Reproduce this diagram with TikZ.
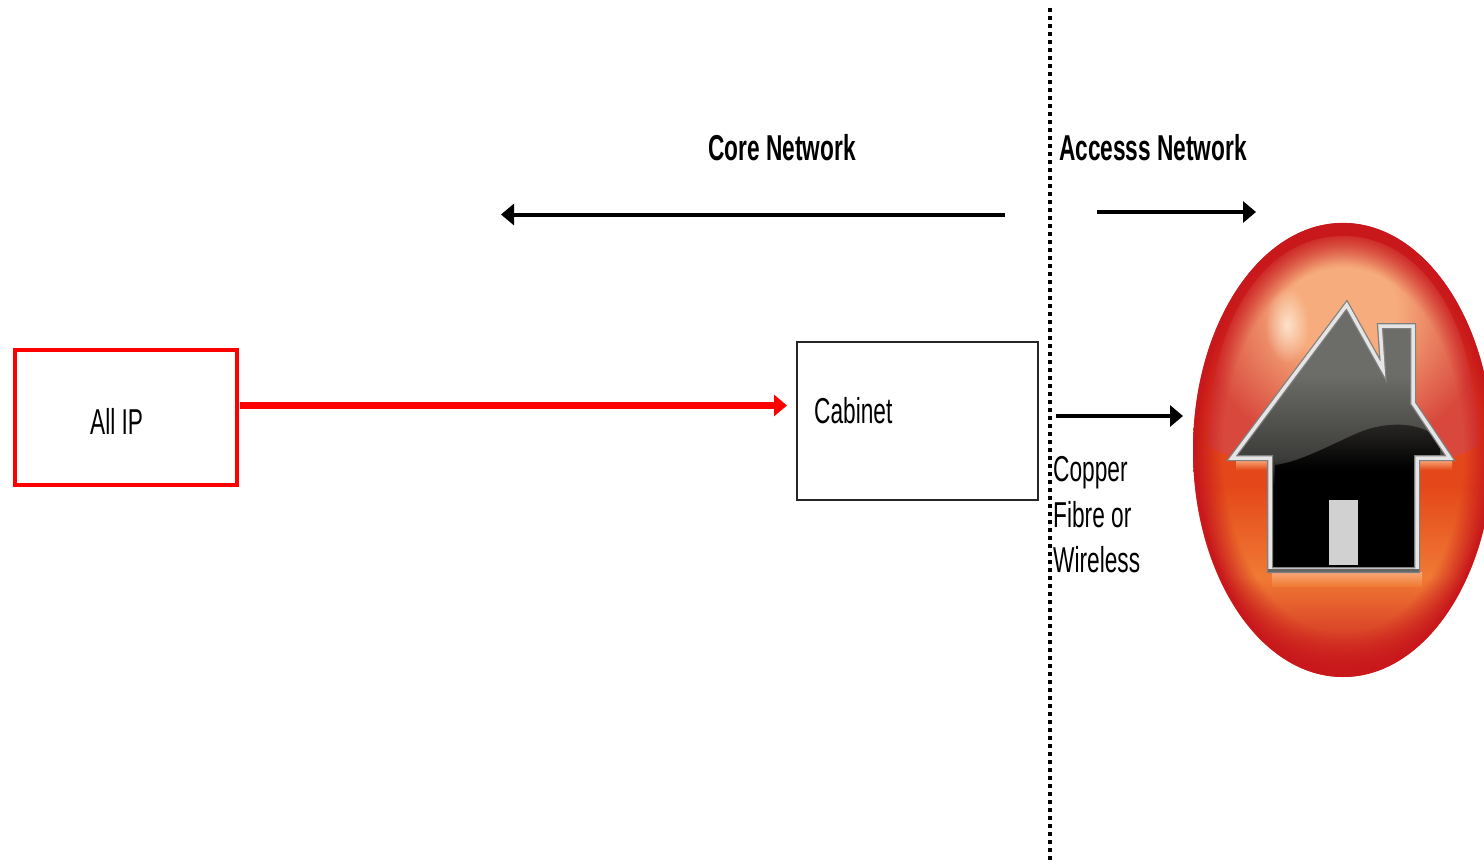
\documentclass[tikz,border=0pt]{standalone}
\usepackage{fontspec}
\setmainfont[FakeStretch=0.63]{Liberation Sans}
\usetikzlibrary{arrows.meta,fadings}
\definecolor{eggrim}{HTML}{C8181C}
\definecolor{eggorange}{HTML}{F07A34}
\definecolor{eggorangeb}{HTML}{E4481A}
\definecolor{eggpeach}{HTML}{F8A878}
\definecolor{glassin}{HTML}{F6AC7C}
\definecolor{glassout}{HTML}{D8483C}
\definecolor{housea}{HTML}{6C6C68}
\definecolor{houseb}{HTML}{3C3C3A}
\definecolor{wavec}{HTML}{2C2A28}
\pgfdeclareverticalshading{eggbody}{100bp}{color(0bp)=(eggrim); color(25bp)=(eggrim); color(36bp)=(eggorange); color(46bp)=(eggorangeb); color(55bp)=(eggorangeb); color(75bp)=(eggrim); color(100bp)=(eggrim)}
\pgfdeclareradialshading{glassshade}{\pgfpoint{0bp}{12bp}}{color(0bp)=(glassin); color(10bp)=(glassin); color(26bp)=(glassout); color(50bp)=(glassout)}
\pgfdeclareverticalshading{housebody}{100bp}{color(0bp)=(black); color(25bp)=(black); color(41bp)=(black); color(46bp)=(houseb); color(62bp)=(housea); color(75bp)=(housea); color(100bp)=(housea)}
\pgfdeclareverticalshading{wavebody}{100bp}{color(0bp)=(black); color(25bp)=(black); color(40bp)=(black); color(75bp)=(wavec); color(100bp)=(wavec)}
\pgfdeclareradialshading{rimshade}{\pgfpointorigin}{color(0bp)=(pgftransparent!100); color(20bp)=(pgftransparent!100); color(24.5bp)=(pgftransparent!0); color(50bp)=(pgftransparent!0)}
\pgfdeclarefading{rimfade}{\pgfuseshading{rimshade}}
\tikzfading[name=softspot, inner color=transparent!15, outer color=transparent!100]
\tikzset{
  boxthin/.style={draw=black!85, line width=2pt, fill=white, minimum width=241pt, minimum height=158pt, inner sep=0pt},
  boxred/.style={draw=red, line width=4pt, fill=white, minimum width=222pt, minimum height=135pt, inner sep=0pt},
  lbl/.style={font=\fontsize{36}{40}\selectfont, inner sep=0pt, anchor=west},
  lblb/.style={font=\fontsize{36}{40}\selectfont\bfseries, inner sep=0pt},
  arr/.style={-{Triangle[length=13pt,width=21pt]}, black, line width=4pt},
  arrred/.style={-{Triangle[length=13pt,width=21pt]}, red, line width=7.5pt},
  divider/.style={black, line width=4pt, dash pattern=on 4pt off 4pt},
}
\newcommand{\housepath}{(1346.7,305) -- (1383,370) -- (1380,326) -- (1413,326) -- (1413,403) -- (1450,458) -- (1417,458) -- (1417,570) -- (1270,570) -- (1270,458) -- (1232,458) -- cycle}
\begin{document}
\begin{tikzpicture}[x=1pt,y=-1pt]
\useasboundingbox (0,0) rectangle (1484,863);
\fill[white] (0,0) rectangle (1484,863);

% Egg icon
\begin{scope}
\clip (1150,200) rectangle (1484,700);
\shade[shading=eggbody] (1343,450) ellipse [x radius=150, y radius=227];
\begin{scope}
\clip (1343,450) ellipse [x radius=150, y radius=227];
\shade[shading=glassshade] (1208,445) .. controls (1210,310) and (1270,236) .. (1343,236) .. controls (1416,236) and (1476,310) .. (1478,445) .. controls (1450,475) and (1240,475) .. cycle;
\end{scope}
\fill[eggrim, path fading=rimfade] (1343,450) ellipse [x radius=150, y radius=227];
\fill[white!85!orange, path fading=softspot] (1287,325) ellipse [x radius=22, y radius=38];
\shade[top color=eggpeach, bottom color=eggorange] (1272,572) rectangle (1422,586);
\shade[top color=eggpeach, bottom color=eggorangeb] (1236,460) rectangle (1270,470);
\shade[top color=eggpeach, bottom color=eggorangeb] (1418,460) rectangle (1452,470);
\end{scope}

% House
\fill[black!70] \housepath;
\begin{scope}
\clip \housepath;
\shade[shading=housebody] (1230,305) rectangle (1452,570);
\shade[shading=wavebody] (1275,465) .. controls (1300,462) and (1330,445) .. (1360,432) .. controls (1385,422) and (1420,420) .. (1440,440) -- (1440,490) -- (1275,490) -- cycle;
\end{scope}
\draw[draw=black!50, line width=6pt, line join=miter] \housepath;
\draw[draw=white!90!black, line width=3.5pt, line join=miter] \housepath;
\draw[black!60, line width=3pt] (1268,570) -- (1419,570);
\fill[black!18] (1329,500) rectangle (1358,565);

% Divider
\coordinate (divtop) at (1050,8);
\coordinate (divbot) at (1050,863);
\draw[divider] (divtop) -- (divbot);

% Boxes
\node[boxred] (allip) at (126,417) {};
\node[lbl] (allipt) at (90,421) {All IP};
\node[boxthin] (cabinet) at (917.5,420.5) {};
\node[lbl] (cabinett) at (814,411) {Cabinet};

% Red connector
\coordinate (redstart) at (240,405.5);
\coordinate (redend) at (787,405.5);
\draw[arrred] (redstart) -- (redend);

% Core / access
\node[lblb] (core) at (782,148) {Core Network};
\node[lblb] (access) at (1153,148) {Accesss Network};
\coordinate (coreS) at (1005,214.5);
\coordinate (coreE) at (501,214.5);
\draw[arr] (coreS) -- (coreE);
\coordinate (accS) at (1097,212);
\coordinate (accE) at (1256,212);
\draw[arr] (accS) -- (accE);
\coordinate (linkS) at (1056,416);
\coordinate (linkE) at (1183,416);
\draw[arr] (linkS) -- (linkE);

% Medium labels
\node[lbl] (copper) at (1053,473) {Copper};
\node[lbl] (fibre) at (1053,515) {Fibre or};
\node[lbl] (wireless) at (1053,560) {Wireless};
\end{tikzpicture}
\end{document}
